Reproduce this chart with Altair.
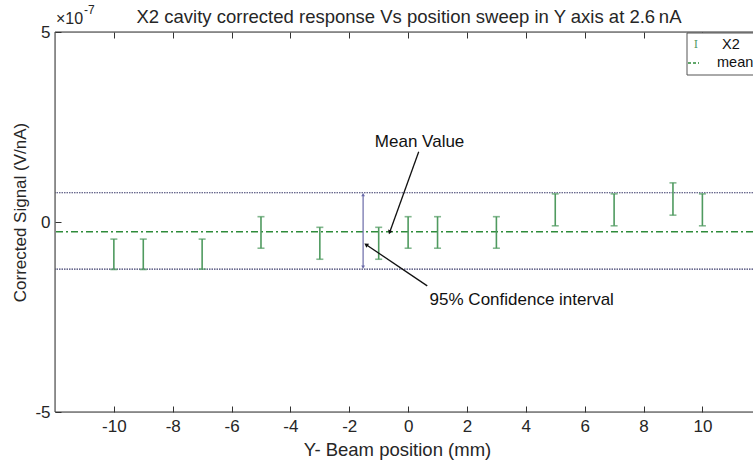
import altair as alt
import pandas as pd

# ---- data (signal values in units of 1e-7 V/nA) ----
positions = [-10, -9, -7, -5, -3, -1, 0, 1, 3, 5, 7, 9, 10]
upper = [-0.45, -0.45, -0.45, 0.14, -0.14, -0.14, 0.14, 0.14, 0.14, 0.74, 0.74, 1.03, 0.74]
lower = [-1.25, -1.25, -1.24, -0.69, -0.98, -0.98, -0.69, -0.69, -0.69, -0.10, -0.10, 0.18, -0.10]
mean_value = -0.255
ci_upper = 0.77
ci_lower = -1.24
x_ticks = [-10, -8, -6, -4, -2, 0, 2, 4, 6, 8, 10]
y_ticks = [-5, 0, 5]
x_domain = [-12, 11.72]
y_domain = [-5, 5]

# annotations (data coordinates)
mean_arrow_x = [0.36, -0.62]
mean_arrow_y = [1.85, mean_value]
ci_arrow_x = [0.65, -1.41]
ci_arrow_y = [-1.68, -0.605]
ci_bar_x = -1.53
ci_bar_y = [0.72, -1.19]
mean_label = ("Mean Value", 0.39, 2.11)
ci_label = ("95% Confidence interval", 0.73, -2.05)
title_text = "X2 cavity corrected response Vs position sweep in Y axis at 2.6\u2009nA"

W, H = 698, 380
FONT = "Liberation Sans"
TXT = "#262626"
GREEN_BAR = "#4f9a5f"
GREEN_MEAN = "#2e8b3a"
DOT = "#3a3a6a"
PURPLE = "#6a6aa8"
LABEL_EXPR = "'' + datum.value"

xs = alt.Scale(domain=x_domain, nice=False, zero=False)
ys = alt.Scale(domain=y_domain, nice=False, zero=False)

df = pd.DataFrame({"x": positions, "hi": upper, "lo": lower})
one = pd.DataFrame({"a": [0]})

x_bottom = alt.Axis(values=x_ticks, orient="bottom", offset=-6, tickSize=6, domain=False,
                    grid=False, tickColor="#333", labelFont=FONT, labelFontSize=17,
                    labelColor=TXT, labelPadding=6, labelExpr=LABEL_EXPR,
                    title="Y- Beam position (mm)", titleX=342,
                    titleFont=FONT, titleFontSize=18.5, titleFontWeight="normal",
                    titleColor=TXT, titlePadding=6)
y_left = alt.Axis(values=y_ticks, orient="left", offset=-6, tickSize=6, domain=False,
                  grid=False, tickColor="#333", labelFont=FONT, labelFontSize=17,
                  labelColor=TXT, labelPadding=5, labelExpr=LABEL_EXPR,
                  title="Corrected Signal (V/nA)", titleY=180,
                  titleFont=FONT, titleFontSize=17, titleFontWeight="normal",
                  titleColor=TXT, titlePadding=5)
x_top = alt.Axis(values=x_ticks, orient="top", offset=-6, tickSize=6, domain=False,
                 grid=False, tickColor="#333", labels=False, title=None)

bars = alt.Chart(df).mark_errorbar(ticks=True, size=7, thickness=1.6, color=GREEN_BAR).encode(
    x=alt.X("x:Q", scale=xs, axis=x_bottom),
    y=alt.Y("lo:Q", scale=ys, axis=y_left),
    y2="hi:Q",
)

top_axis = alt.Chart(df).mark_point(opacity=0).encode(
    x=alt.X("x:Q", scale=xs, axis=x_top),
    y=alt.Y("hi:Q", scale=ys, axis=None),
)

bounds = alt.Chart(pd.DataFrame({"v": [ci_upper, ci_lower]})).mark_rule(
    color=DOT, strokeDash=[1.5, 1], strokeWidth=1.2
).encode(y=alt.Y("v:Q", scale=ys, axis=None))

mean_line = alt.Chart(pd.DataFrame({"v": [mean_value]})).mark_rule(
    color=GREEN_MEAN, strokeDash=[7, 3, 2, 3], strokeWidth=1.5
).encode(y=alt.Y("v:Q", scale=ys, axis=None))

ci_bar = alt.Chart(pd.DataFrame({"x": [ci_bar_x], "y1": [ci_bar_y[0]], "y2": [ci_bar_y[1]]})).mark_rule(
    color=PURPLE, strokeWidth=1.2
).encode(x=alt.X("x:Q", scale=xs, axis=None), y=alt.Y("y1:Q", scale=ys, axis=None), y2="y2:Q")

ci_heads = alt.Chart(pd.DataFrame({"x": [ci_bar_x, ci_bar_x], "y": ci_bar_y,
                                   "s": ["triangle-up", "triangle-down"]})).mark_point(
    filled=True, size=14, color=PURPLE, opacity=1
).encode(x=alt.X("x:Q", scale=xs, axis=None), y=alt.Y("y:Q", scale=ys, axis=None),
         shape=alt.Shape("s:N", scale=None, legend=None))

def arrow(xv, yv, angle):
    d = pd.DataFrame({"x": xv, "y": yv, "o": [0, 1]})
    line = alt.Chart(d).mark_line(color="#111", strokeWidth=1.3).encode(
        x=alt.X("x:Q", scale=xs, axis=None), y=alt.Y("y:Q", scale=ys, axis=None), order="o:Q")
    head = alt.Chart(d.iloc[[1]]).mark_point(shape="triangle", filled=True, size=22,
                                             angle=angle, color="#111", opacity=1).encode(
        x=alt.X("x:Q", scale=xs, axis=None), y=alt.Y("y:Q", scale=ys, axis=None))
    return line + head

mean_arrow = arrow(mean_arrow_x, mean_arrow_y, 200)
ci_arrow = arrow(ci_arrow_x, ci_arrow_y, 304)

def label(t, align):
    txt, xv, yv = t
    return alt.Chart(pd.DataFrame({"t": [txt], "x": [xv], "y": [yv]})).mark_text(
        font=FONT, fontSize=17, color="#111", align=align, baseline="middle"
    ).encode(x=alt.X("x:Q", scale=xs, axis=None), y=alt.Y("y:Q", scale=ys, axis=None), text="t:N")

labels = label(mean_label, "center") + label(ci_label, "left")

# frame (box)
frame_top = alt.Chart(one).mark_rule(color="#333", strokeWidth=1).encode(
    x=alt.value(0), x2=alt.value(W + 10), y=alt.value(0))
frame_bottom = alt.Chart(one).mark_rule(color="#333", strokeWidth=1).encode(
    x=alt.value(0), x2=alt.value(W + 10), y=alt.value(H))
frame_left = alt.Chart(one).mark_rule(color="#333", strokeWidth=1).encode(
    x=alt.value(0), y=alt.value(0), y2=alt.value(H))

# title and exponent label
title_mark = alt.Chart(one).mark_text(font=FONT, fontSize=18.5, color=TXT, align="center",
                                      baseline="alphabetic").encode(
    x=alt.value(354), y=alt.value(-9), text=alt.value(title_text))
exp_base = alt.Chart(one).mark_text(font=FONT, fontSize=16, color=TXT, align="left",
                                    baseline="alphabetic").encode(
    x=alt.value(1), y=alt.value(-8), text=alt.value("\u00d710"))
exp_pow = alt.Chart(one).mark_text(font=FONT, fontSize=12, color=TXT, align="left",
                                   baseline="alphabetic").encode(
    x=alt.value(29), y=alt.value(-18), text=alt.value("-7"))

# legend (drawn inside the axes, cut by the right edge like the reference)
leg_box = alt.Chart(one).mark_rect(fill="white", stroke="#555", strokeWidth=1).encode(
    x=alt.value(632), x2=alt.value(W + 40), y=alt.value(1), y2=alt.value(43))
leg_icon1 = alt.Chart(one).mark_text(font="DejaVu Serif", fontSize=11, color=GREEN_BAR,
                                     align="center", baseline="middle").encode(
    x=alt.value(641), y=alt.value(13), text=alt.value("I"))
leg_icon2 = alt.Chart(one).mark_rule(color=GREEN_MEAN, strokeDash=[3, 2], strokeWidth=1.3).encode(
    x=alt.value(633), x2=alt.value(644), y=alt.value(31))
leg_t1 = alt.Chart(one).mark_text(font=FONT, fontSize=14.5, color="#111", align="left",
                                  baseline="middle").encode(
    x=alt.value(667), y=alt.value(13), text=alt.value("X2"))
leg_t2 = alt.Chart(one).mark_text(font=FONT, fontSize=14.5, color="#111", align="left",
                                  baseline="middle").encode(
    x=alt.value(662), y=alt.value(31), text=alt.value("mean"))

chart = alt.layer(
    bounds, mean_line, bars, top_axis, ci_bar, ci_heads, mean_arrow, ci_arrow, labels,
    frame_top, frame_bottom, frame_left, title_mark, exp_base, exp_pow,
    leg_box, leg_icon1, leg_icon2, leg_t1, leg_t2,
).resolve_axis(x="independent", y="independent").properties(
    width=W, height=H,
    autosize=alt.AutoSizeParams(type="none"),
    padding={"left": 55, "top": 32, "right": 0, "bottom": 51},
).configure_view(stroke=None).configure(background="white")

chart.save("out.html", embed_options={"renderer": "svg", "actions": False})
